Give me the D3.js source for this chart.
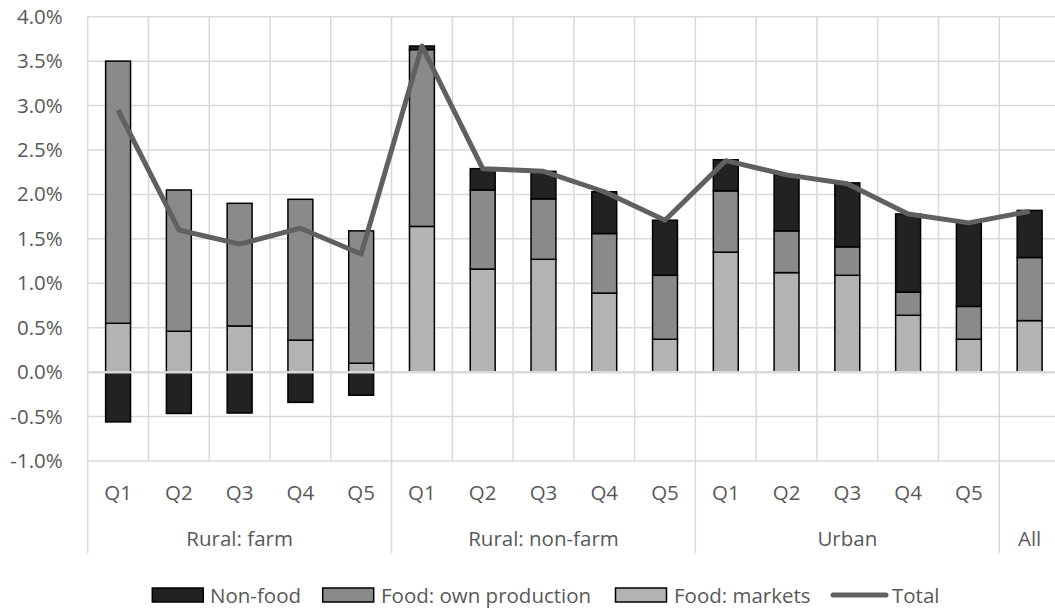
<!DOCTYPE html>
<html>
<head>
<meta charset="utf-8">
<script src="https://cdn.jsdelivr.net/npm/d3@7"></script>
<style>
  html, body { margin: 0; padding: 0; background: #fff; }
  svg { display: block; font-family: "Open Sans", sans-serif; }
</style>
</head>
<body>
<svg id="chart" width="1055" height="609"></svg>
<script>
// Household groups and income quintiles
const groups = ["Rural: farm", "Rural: non-farm", "Urban", "All"];
const quintiles = ["Q1", "Q2", "Q3", "Q4", "Q5"];
const categories = [
  ...quintiles.map(q => ({ group: "Rural: farm", label: q })),
  ...quintiles.map(q => ({ group: "Rural: non-farm", label: q })),
  ...quintiles.map(q => ({ group: "Urban", label: q })),
  { group: "All", label: "" }
];

// Components of the change (percent), one value per category
const foodMarkets   = [0.55, 0.46, 0.52, 0.36, 0.10,  1.64, 1.16, 1.27, 0.89, 0.37,  1.35, 1.12, 1.09, 0.64, 0.37,  0.58];
const foodOwnProd   = [2.95, 1.59, 1.38, 1.585, 1.49, 1.99, 0.89, 0.68, 0.67, 0.72,  0.69, 0.47, 0.32, 0.26, 0.37,  0.71];
const nonFood       = [-0.56, -0.465, -0.46, -0.34, -0.26, 0.04, 0.24, 0.31, 0.47, 0.62, 0.35, 0.63, 0.72, 0.88, 0.935, 0.53];
const total         = [2.95, 1.60, 1.44, 1.62, 1.33,  3.67, 2.29, 2.26, 2.03, 1.71,  2.38, 2.22, 2.12, 1.78, 1.68,  1.81];

const yTicks = [-1.0, -0.5, 0.0, 0.5, 1.0, 1.5, 2.0, 2.5, 3.0, 3.5, 4.0];

const series = [
  { name: "Food: markets",        values: foodMarkets, color: "#b3b3b3" },
  { name: "Food: own production", values: foodOwnProd, color: "#8a8a8a" },
  { name: "Non-food",             values: nonFood,     color: "#222222" }
];

const svg = d3.select("#chart");
const plotLeft = 87.7, plotStep = 60.77, plotTop = 16.7, plotBottom = 461;
const x = d3.scaleBand().domain(d3.range(categories.length))
  .range([plotLeft, plotLeft + plotStep * categories.length]).padding(0);
const y = d3.scaleLinear().domain([-1, 4]).range([plotBottom, plotTop]);
const barW = x.bandwidth() * 0.41;
const gridColor = "#d9d9d9";
const textColor = "#595959";
const fontSize = "20.5px";

// Gridlines
const grid = svg.append("g");
grid.selectAll("line.h").data(yTicks).join("line")
  .attr("x1", plotLeft).attr("x2", x.range()[1])
  .attr("y1", d => y(d)).attr("y2", d => y(d))
  .attr("stroke", gridColor).attr("stroke-width", 1.5);
grid.selectAll("line.v").data(d3.range(categories.length + 1)).join("line")
  .attr("x1", i => plotLeft + i * x.step()).attr("x2", i => plotLeft + i * x.step())
  .attr("y1", y(4)).attr("y2", y(-1))
  .attr("stroke", gridColor).attr("stroke-width", 1.5);

// Y axis labels
const yAxis = d3.axisLeft(y).tickValues(yTicks).tickSize(0).tickPadding(25)
  .tickFormat(d => d.toFixed(1) + "%");
svg.append("g").attr("transform", `translate(${plotLeft},0)`).call(yAxis)
  .call(g => g.select(".domain").remove())
  .selectAll("text").attr("fill", textColor).style("font-size", fontSize)
  .style("font-family", "'Open Sans', sans-serif");

// Stacked bars: positives stack up from zero, negatives down from zero
const bars = svg.append("g");
categories.forEach((c, i) => {
  let pos = 0, neg = 0;
  series.forEach(s => {
    const v = s.values[i];
    let y0, y1;
    if (v >= 0) { y0 = pos; y1 = pos + v; pos = y1; }
    else { y0 = neg; y1 = neg + v; neg = y1; }
    bars.append("rect")
      .attr("x", x(i) + (x.bandwidth() - barW) / 2)
      .attr("width", barW)
      .attr("y", y(Math.max(y0, y1)))
      .attr("height", Math.abs(y(y0) - y(y1)))
      .attr("fill", s.color)
      .attr("stroke", "#000").attr("stroke-width", 1.5);
  });
});

// Category axis line at zero
svg.append("line")
  .attr("x1", plotLeft).attr("x2", x.range()[1])
  .attr("y1", y(0)).attr("y2", y(0))
  .attr("stroke", gridColor).attr("stroke-width", 2.5);

// Total line
const line = d3.line().x((d, i) => x(i) + x.bandwidth() / 2).y(d => y(d));
svg.append("path").datum(total)
  .attr("d", line).attr("fill", "none")
  .attr("stroke", "#606060").attr("stroke-width", 5)
  .attr("stroke-linejoin", "round");

// Quintile labels
svg.append("g").selectAll("text").data(categories).join("text")
  .attr("x", (d, i) => x(i) + x.bandwidth() / 2).attr("y", 492)
  .attr("text-anchor", "middle").attr("dominant-baseline", "central")
  .attr("fill", textColor).style("font-size", fontSize)
  .text(d => d.label);

// Group labels and separators
const groupExtents = groups.map(g => {
  const idx = categories.map((c, i) => c.group === g ? i : -1).filter(i => i >= 0);
  return { group: g, start: d3.min(idx), end: d3.max(idx) + 1 };
});
svg.append("g").selectAll("line").data([0, ...groupExtents.map(d => d.end).slice(0, -1)]).join("line")
  .attr("x1", i => plotLeft + i * x.step()).attr("x2", i => plotLeft + i * x.step())
  .attr("y1", y(-1)).attr("y2", 553)
  .attr("stroke", gridColor).attr("stroke-width", 1.5);
svg.append("g").selectAll("text").data(groupExtents).join("text")
  .attr("x", d => plotLeft + (d.start + d.end) / 2 * x.step())
  .attr("y", 538)
  .attr("text-anchor", "middle").attr("dominant-baseline", "central")
  .attr("fill", textColor).style("font-size", fontSize)
  .text(d => d.group);

// Legend
const legendItems = [
  { name: "Non-food", x: 152.3, textX: 210 },
  { name: "Food: own production", x: 322.7, textX: 381 },
  { name: "Food: markets", x: 615.5, textX: 674 }
];
const lg = svg.append("g");
legendItems.forEach(item => {
  const s = series.find(d => d.name === item.name);
  lg.append("rect").attr("x", item.x).attr("y", 588).attr("width", 51).attr("height", 14)
    .attr("fill", s.color).attr("stroke", "#000").attr("stroke-width", 1.5);
  lg.append("text").attr("x", item.textX).attr("y", 595)
    .attr("dominant-baseline", "central").attr("fill", textColor)
    .style("font-size", fontSize).text(item.name);
});
lg.append("line").attr("x1", 833).attr("x2", 886).attr("y1", 595).attr("y2", 595)
  .attr("stroke", "#606060").attr("stroke-width", 5).attr("stroke-linecap", "round");
lg.append("text").attr("x", 892).attr("y", 595)
  .attr("dominant-baseline", "central").attr("fill", textColor)
  .style("font-size", fontSize).text("Total");
</script>
</body>
</html>
